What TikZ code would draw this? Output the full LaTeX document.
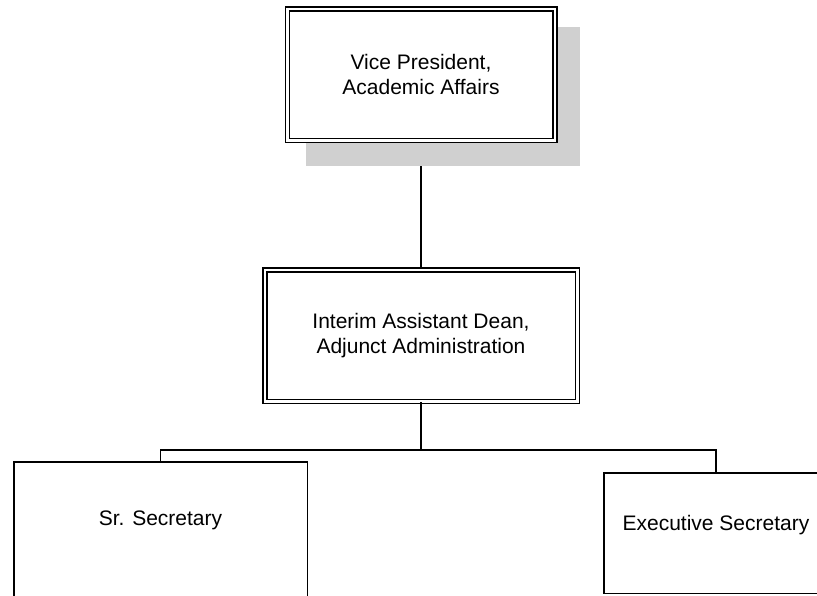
\documentclass[tikz,border=0pt]{standalone}
\usepackage{fontspec}
\setmainfont{Liberation Sans}
\usetikzlibrary{backgrounds}
\definecolor{shadowgray}{RGB}{208,208,208}

\begin{document}
\begin{tikzpicture}[x=1pt, y=-1pt,
    headbox/.style={rectangle, draw, line width=1.5pt, double, double distance=2.5pt, fill=white, align=center, inner sep=0pt, minimum height=131.5pt, font=\fontsize{21}{25.5}\selectfont},
    staffbox/.style={rectangle, draw, line width=1.5pt, fill=white, inner sep=0pt, text height=15pt, font=\fontsize{21}{25.5}\selectfont},
    link/.style={line width=1.5pt}
]
\useasboundingbox (0,0) rectangle (817,595);
\node[headbox, minimum width=267.5pt](vp) at (421,74.5){Vice President,\\Academic Affairs};
\node[headbox, minimum width=312.5pt](dean) at (421,335.5){Interim Assistant Dean,\\Adjunct Administration};
\node[staffbox, minimum width=293.5pt, minimum height=150pt, text depth=37.5pt](srsec) at (160.5,536.75){Sr. Secretary};
\node[staffbox, minimum width=224.5pt, minimum height=120.5pt, text depth=20pt](execsec) at (716,533){Executive Secretary};
\coordinate (split) at (421,450);
\begin{scope}[on background layer]
\draw[link] (vp) -- (dean);
\fill[shadowgray] ([shift={(19.25pt,-24.75pt)}]vp.south west) rectangle ([shift={(24.75pt,-19.25pt)}]vp.north east);
\end{scope}
\draw[link] (dean) -- (split);
\draw[link] (srsec.north) |- (split) -| (execsec.north);
\end{tikzpicture}
\end{document}
